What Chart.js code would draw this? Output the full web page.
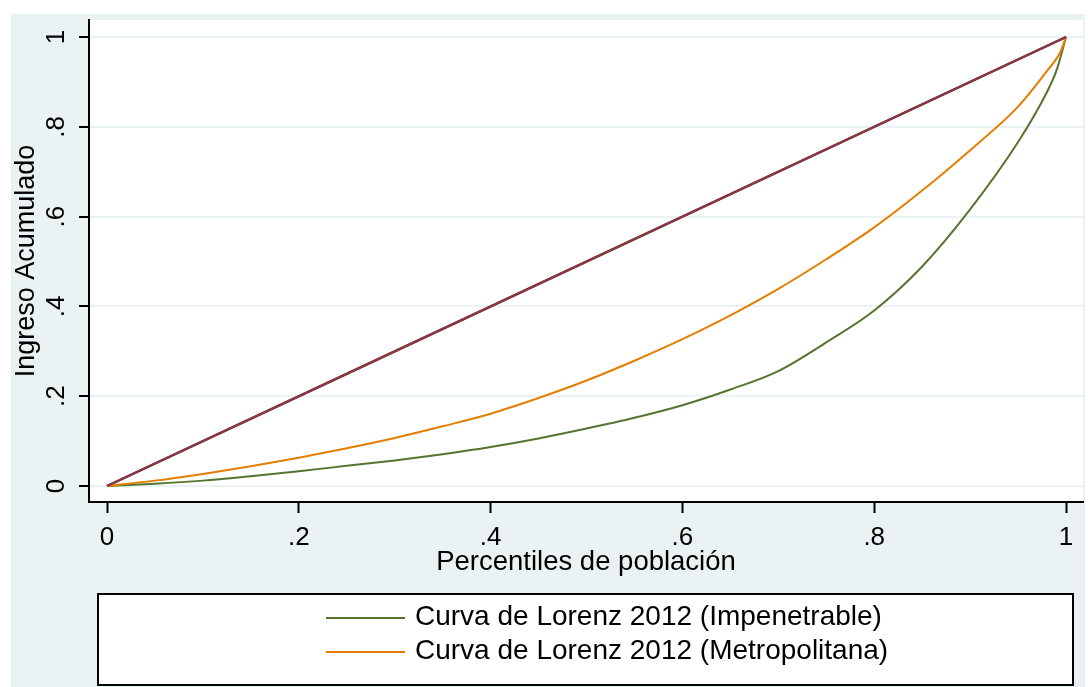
<!DOCTYPE html>
<html>
<head>
<meta charset="utf-8">
<script src="https://cdn.jsdelivr.net/npm/chart.js@4/dist/chart.umd.min.js"></script>
<style>
  html, body { margin: 0; padding: 0; background: #ffffff; }
  #wrap { width: 1088px; height: 687px; position: relative; }
</style>
</head>
<body>
<div id="wrap"><canvas id="c" width="1088" height="687"></canvas></div>
<script>
// ---- data ----
const equalityX = [0, 1];
const equalityY = [0, 1];

const pctImpenetrable = [0, 0.05, 0.1, 0.15, 0.2, 0.25, 0.3, 0.35, 0.4, 0.45, 0.5, 0.55, 0.6, 0.65, 0.7, 0.75, 0.8, 0.85, 0.9, 0.95, 0.98, 0.99, 1];
const lorenzImpenetrable = [0, 0.005, 0.012, 0.022, 0.033, 0.045, 0.057, 0.071, 0.087, 0.106, 0.128, 0.152, 0.180, 0.215, 0.256, 0.320, 0.391, 0.489, 0.616, 0.766, 0.877, 0.925, 1];

const pctMetropolitana = [0, 0.05, 0.1, 0.15, 0.2, 0.25, 0.3, 0.35, 0.4, 0.45, 0.5, 0.55, 0.6, 0.65, 0.7, 0.75, 0.8, 0.85, 0.9, 0.95, 0.98, 0.994, 1];
const lorenzMetropolitana = [0, 0.012, 0.027, 0.044, 0.063, 0.084, 0.107, 0.133, 0.161, 0.196, 0.235, 0.279, 0.327, 0.380, 0.439, 0.505, 0.576, 0.658, 0.748, 0.845, 0.924, 0.966, 1];

const tickValues = [0, 0.2, 0.4, 0.6, 0.8, 1];
const tickLabels = ["0", ".2", ".4", ".6", ".8", "1"];

const seriesLabels = ["Igualdad", "Igualdad", "Curva de Lorenz 2012 (Impenetrable)", "Curva de Lorenz 2012 (Metropolitana)"];
const legendShown = [false, false, true, true];

const xTitle = "Percentiles de población";
const yTitle = "Ingreso Acumulado";

// ---- helpers ----
const toPoints = (xs, ys) => xs.map((x, i) => ({ x: x, y: ys[i] }));
const FONT = "'Liberation Sans', Arial, sans-serif";
const BG = '#eaf2f3';
const colors = ['#1a476f', '#90353b', '#55752f', '#e37e00'];
const drawOrder = [4, 1, 3, 2];

const bgPlugin = {
  id: 'stataBg',
  beforeDraw(chart) {
    const ctx = chart.ctx;
    const a = chart.chartArea;
    ctx.save();
    ctx.fillStyle = '#ffffff';
    ctx.fillRect(0, 0, chart.width, chart.height);
    ctx.fillStyle = BG;
    ctx.fillRect(11, 14, 1074, 673);
    ctx.fillStyle = '#ffffff';
    ctx.fillRect(a.left, a.top, a.right - a.left, a.bottom - a.top);
    ctx.restore();
  }
};

const legendPlugin = {
  id: 'stataLegend',
  afterDraw(chart) {
    const ctx = chart.ctx;
    ctx.save();
    ctx.fillStyle = '#ffffff';
    ctx.fillRect(98, 594, 975, 91);
    ctx.strokeStyle = '#000000';
    ctx.lineWidth = 2;
    ctx.strokeRect(98, 594, 975, 91);
    const rows = [617, 651];
    let r = 0;
    chart.data.datasets.forEach((ds, i) => {
      if (!legendShown[i]) return;
      const y = rows[r++];
      ctx.strokeStyle = ds.borderColor;
      ctx.lineWidth = 2;
      ctx.beginPath();
      ctx.moveTo(326, y + 1);
      ctx.lineTo(405, y + 1);
      ctx.stroke();
      ctx.fillStyle = '#000000';
      ctx.font = '28px ' + FONT;
      ctx.textAlign = 'left';
      ctx.textBaseline = 'middle';
      ctx.fillText(ds.label, 415, y);
    });
    ctx.restore();
  }
};

const mkDataset = (i, xs, ys) => ({
  label: seriesLabels[i],
  data: toPoints(xs, ys),
  borderColor: colors[i],
  backgroundColor: colors[i],
  borderWidth: i < 2 ? 2.4 : 2,
  pointRadius: 0,
  fill: false,
  order: drawOrder[i],
  cubicInterpolationMode: 'monotone'
});

new Chart(document.getElementById('c'), {
  type: 'line',
  data: {
    datasets: [
      mkDataset(0, equalityX, equalityY),
      mkDataset(1, equalityX, equalityY),
      mkDataset(2, pctImpenetrable, lorenzImpenetrable),
      mkDataset(3, pctMetropolitana, lorenzMetropolitana)
    ]
  },
  options: {
    responsive: false,
    animation: false,
    devicePixelRatio: 1,
    layout: { padding: { left: 0, top: 20, right: 5, bottom: 105 } },
    plugins: {
      legend: { display: false },
      tooltip: { enabled: false }
    },
    scales: {
      x: {
        type: 'linear',
        min: -0.01877,
        max: 1.0177,
        afterBuildTicks: s => { s.ticks = tickValues.map(v => ({ value: v })); },
        afterFit: s => { s.height = 80; s.paddingLeft = 0; s.paddingRight = 0; },
        ticks: {
          autoSkip: false,
          maxRotation: 0,
          minRotation: 0,
          padding: 9,
          color: '#000000',
          font: { family: FONT, size: 26 },
          callback: (v, i) => tickLabels[i]
        },
        grid: {
          drawOnChartArea: false,
          drawTicks: true,
          tickLength: 11,
          tickColor: '#000000',
          tickWidth: 2
        },
        border: { display: true, color: '#000000', width: 2 },
        title: {
          display: true,
          text: xTitle,
          color: '#000000',
          font: { family: FONT, size: 27.5 },
          padding: { top: 0, bottom: 3 }
        }
      },
      y: {
        type: 'linear',
        min: -0.0356,
        max: 1.0379,
        afterBuildTicks: s => { s.ticks = tickValues.map(v => ({ value: v })); },
        afterFit: s => { s.width = 89; s.paddingTop = 0; s.paddingBottom = 0; },
        ticks: {
          autoSkip: false,
          minRotation: 90,
          maxRotation: 90,
          crossAlign: 'center',
          padding: 11,
          color: '#000000',
          font: { family: FONT, size: 26 },
          callback: (v, i) => tickLabels[i]
        },
        grid: {
          color: BG,
          lineWidth: 2,
          drawTicks: true,
          tickLength: 10,
          tickColor: '#000000',
          tickWidth: 2
        },
        border: { display: true, color: '#000000', width: 2 },
        title: {
          display: true,
          text: yTitle,
          color: '#000000',
          font: { family: FONT, size: 27 },
          padding: { top: 10, bottom: 0 }
        }
      }
    }
  },
  plugins: [bgPlugin, legendPlugin]
});
</script>
</body>
</html>
